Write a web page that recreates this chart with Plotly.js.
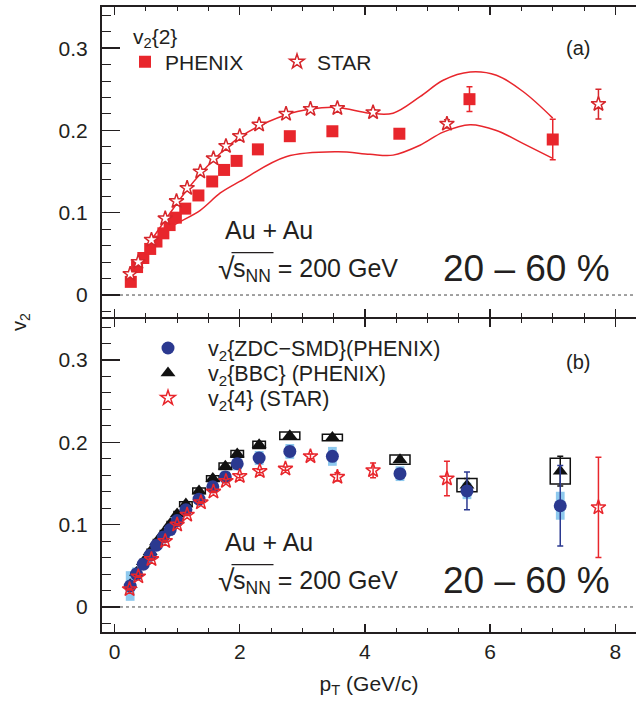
<!DOCTYPE html>
<html>
<head>
<meta charset="utf-8">
<script src="https://cdn.plot.ly/plotly-3.0.1.min.js"></script>
<style>html,body{margin:0;padding:0;background:#fff;}</style>
</head>
<body>
<div id="chart" style="width:642px;height:704px;"></div>
<script>
// ---- (a) v2{2}: PHENIX and STAR ----
const phenixPt  = [0.26,0.36,0.46,0.57,0.67,0.78,0.88,0.98,1.13,1.34,1.56,1.75,1.95,2.29,2.80,3.48,4.55,5.67,7.00];
const phenixV2  = [0.016,0.034,0.045,0.056,0.065,0.075,0.085,0.094,0.105,0.121,0.138,0.152,0.163,0.177,0.193,0.199,0.196,0.238,0.189];
const phenixErr = [0.001,0.001,0.001,0.001,0.001,0.001,0.001,0.001,0.001,0.001,0.001,0.001,0.001,0.002,0.002,0.002,0.004,0.015,0.0245];

const star2Pt  = [0.25,0.38,0.59,0.81,0.99,1.16,1.37,1.58,1.78,2.00,2.31,2.74,3.13,3.56,4.13,5.31,7.73];
const star2V2  = [0.0255,0.040,0.067,0.093,0.114,0.130,0.150,0.166,0.181,0.193,0.207,0.220,0.226,0.227,0.222,0.208,0.232];
const star2Err = [0.001,0.001,0.001,0.001,0.001,0.001,0.001,0.001,0.001,0.001,0.001,0.002,0.002,0.002,0.003,0.005,0.018];

// model band (upper / lower edges)
const bandHiPt = [0.5,0.8,1.16,1.58,2.0,2.74,3.13,3.56,4.08,4.45,4.88,5.25,5.68,6.1,6.53,7.0];
const bandHiV2 = [0.057,0.090,0.128,0.164,0.192,0.219,0.226,0.228,0.221,0.221,0.241,0.261,0.271,0.267,0.247,0.215];
const bandLoPt = [0.5,0.83,1.37,1.69,2.0,2.74,3.56,4.08,4.45,4.88,5.25,5.68,6.1,6.53,7.0];
const bandLoV2 = [0.052,0.079,0.103,0.124,0.138,0.168,0.174,0.171,0.170,0.182,0.198,0.207,0.200,0.184,0.166];

// ---- (b) v2{ZDC-SMD}, v2{BBC} (PHENIX), v2{4} (STAR) ----
const phxPt    = [0.25,0.35,0.46,0.57,0.67,0.78,0.89,1.00,1.14,1.35,1.57,1.77,1.96,2.31,2.80,3.48,4.56,5.63,7.12];
const zdcV2    = [0.0255,0.040,0.052,0.063,0.075,0.085,0.094,0.105,0.118,0.131,0.146,0.158,0.174,0.181,0.189,0.183,0.162,0.141,0.123];
const zdcStat  = [0.002,0.001,0.001,0.001,0.001,0.001,0.001,0.001,0.001,0.001,0.001,0.002,0.002,0.002,0.003,0.004,0.005,0.023,0.049];
const zdcSys   = [0.018,0.008,0.006,0.005,0.005,0.005,0.005,0.005,0.006,0.006,0.007,0.007,0.008,0.0085,0.009,0.0115,0.009,0.010,0.017];
const bbcV2    = [0.027,0.042,0.055,0.067,0.079,0.090,0.101,0.113,0.125,0.141,0.156,0.171,0.186,0.197,0.208,0.206,0.179,0.148,0.165];
const bbcStat  = [0.001,0.001,0.001,0.001,0.001,0.001,0.001,0.001,0.001,0.001,0.001,0.001,0.001,0.001,0.002,0.002,0.003,0.008,0.018];
const bbcSys   = [0.003,0.003,0.003,0.003,0.003,0.003,0.003,0.003,0.003,0.0035,0.0035,0.004,0.004,0.0045,0.0045,0.004,0.0057,0.008,0.0156];

const star4Pt  = [0.24,0.38,0.59,0.81,1.00,1.16,1.38,1.58,1.78,2.00,2.32,2.73,3.13,3.56,4.13,5.31,7.73];
const star4V2  = [0.0215,0.037,0.058,0.080,0.100,0.112,0.127,0.140,0.153,0.159,0.165,0.168,0.183,0.158,0.166,0.156,0.121];
const star4Err = [0.001,0.001,0.001,0.001,0.001,0.001,0.001,0.001,0.002,0.002,0.002,0.002,0.003,0.005,0.009,0.021,0.061];

// ---- styling ----
const FONT = 'Liberation Sans, Arial, Helvetica, sans-serif';
const TXT = '#231f20';
const RED = '#e8262c';
const STARRED = '#d6262b';
const BLUE = '#2b3990';
const LIGHTBLUE = '#8ec9ee';

const W = 642, H = 704;
const M = {l: 102, r: 6, t: 7, b: 72};
const PW = W - M.l - M.r, PH = H - M.t - M.b;
const px = x => (x - M.l) / PW;        // pixel -> paper x
const py = y => (H - M.b - y) / PH;    // pixel -> paper y

const traces = [
  {x: bandHiPt, y: bandHiV2, xaxis: 'x2', yaxis: 'y2', mode: 'lines', showlegend: false,
   line: {color: RED, width: 1.5, shape: 'spline', smoothing: 1}},
  {x: bandLoPt, y: bandLoV2, xaxis: 'x2', yaxis: 'y2', mode: 'lines', showlegend: false,
   line: {color: RED, width: 1.5, shape: 'spline', smoothing: 1}},
  {x: phenixPt, y: phenixV2, xaxis: 'x2', yaxis: 'y2', mode: 'markers', name: 'PHENIX', legend: 'legend',
   marker: {symbol: 'square', size: 12, color: RED},
   error_y: {type: 'data', array: phenixErr, color: RED, thickness: 1.5, width: 3}},
  {x: star2Pt, y: star2V2, xaxis: 'x2', yaxis: 'y2', mode: 'markers', name: 'STAR', legend: 'legend2',
   marker: {symbol: 'star', size: 11, color: '#ffffff', line: {color: STARRED, width: 1.5}},
   error_y: {type: 'data', array: star2Err, color: STARRED, thickness: 1.5, width: 3}},

  {x: phxPt, y: bbcV2, xaxis: 'x', yaxis: 'y', mode: 'markers', name: 'v<sub>2</sub>{BBC} (PHENIX)',
   legend: 'legend4',
   marker: {symbol: 'triangle-up', size: 13, color: '#111111'},
   error_y: {type: 'data', array: bbcStat, color: '#111111', thickness: 1.5, width: 3}},
  {x: phxPt, y: zdcV2, xaxis: 'x', yaxis: 'y', mode: 'markers', name: 'v<sub>2</sub>{ZDC\u2212SMD}(PHENIX)',
   legend: 'legend3',
   marker: {symbol: 'circle', size: 13, color: BLUE},
   error_y: {type: 'data', array: zdcStat, color: BLUE, thickness: 1.5, width: 3}},
  {x: star4Pt, y: star4V2, xaxis: 'x', yaxis: 'y', mode: 'markers', name: 'v<sub>2</sub>{4} (STAR)',
   legend: 'legend5',
   marker: {symbol: 'star-open', size: 11, color: RED, line: {width: 1.5}},
   error_y: {type: 'data', array: star4Err, color: RED, thickness: 1.5, width: 3}}
];

// systematic boxes
const shapes = [];
phxPt.forEach((p, i) => {
  shapes.push({type: 'rect', xref: 'x', yref: 'y', layer: 'below',
    x0: p - 0.07, x1: p + 0.07, y0: zdcV2[i] - zdcSys[i], y1: zdcV2[i] + zdcSys[i],
    fillcolor: LIGHTBLUE, line: {width: 0}});
});
phxPt.forEach((p, i) => {
  const hw = p < 1.1 ? 0.05 : (p < 2.5 ? 0.1 : 0.16);
  shapes.push({type: 'rect', xref: 'x', yref: 'y', layer: 'below',
    x0: p - hw, x1: p + hw, y0: bbcV2[i] - bbcSys[i], y1: bbcV2[i] + bbcSys[i],
    fillcolor: 'rgba(0,0,0,0)', line: {color: '#111111', width: 1.5}});
});
// v2 = 0 reference lines
shapes.push({type: 'line', xref: 'paper', x0: 0, x1: 1, yref: 'y2', y0: 0, y1: 0, layer: 'below',
  line: {color: '#444', width: 1, dash: 'dot'}});
shapes.push({type: 'line', xref: 'paper', x0: 0, x1: 1, yref: 'y', y0: 0, y1: 0, layer: 'below',
  line: {color: '#444', width: 1, dash: 'dot'}});
// radical bars
[252.7, 564.7].forEach(yb => shapes.push({type: 'line', xref: 'paper', yref: 'paper',
  x0: px(231.5), x1: px(273.5), y0: py(yb), y1: py(yb), line: {color: TXT, width: 1.3}}));

function ann(text, x, y, size, xanchor) {
  return {text: text, xref: 'paper', yref: 'paper', x: px(x), y: py(y), xanchor: xanchor || 'left',
    yanchor: 'middle', showarrow: false, font: {family: FONT, size: size, color: TXT}};
}
const annotations = [];
annotations.push(ann('v<sub>2</sub>{2}', 131, 38, 21));
[0, 312].forEach((dy, k) => {
  annotations.push(ann(k === 0 ? '(a)' : '(b)', 578, 48 + dy + (k ? 2 : 0), 20, 'center'));
  annotations.push(ann('Au + Au', 223, 230 + dy, 25));
  annotations.push(ann('\u221A', 216, 268 + dy, 30));
  annotations.push(ann('s<sub>NN</sub> = 200 GeV', 231, 270 + dy, 25));
  annotations.push(ann('20 \u2013 60 %', 441, 268.5 + dy, 37));
});
const ytitle = ann('v<sub>2</sub>', 20, 322, 20, 'center');
ytitle.textangle = -90;
annotations.push(ytitle);

const xCommon = {range: [-0.2, 8.33], tick0: 0, dtick: 2, ticks: 'inside', ticklen: 8, tickwidth: 1.5,
  tickcolor: TXT, showline: true, linewidth: 2, linecolor: TXT, mirror: 'ticks',
  showgrid: false, zeroline: false, tickfont: {family: FONT, size: 21, color: TXT},
  minor: {dtick: 0.5, tick0: 0, ticks: 'inside', ticklen: 4, tickwidth: 1, tickcolor: TXT}};
const yLeft = {tick0: 0, dtick: 0.1, ticks: 'inside', ticklen: 18, tickwidth: 1.5, tickcolor: TXT,
  showline: true, linewidth: 2, linecolor: TXT, mirror: false, showgrid: false, zeroline: false,
  tickfont: {family: FONT, size: 21, color: TXT}, ticklabelstandoff: 8,
  minor: {dtick: 0.02, tick0: 0, ticks: 'inside', ticklen: 9, tickwidth: 1, tickcolor: TXT}};
const yRight = {tick0: 0, dtick: 0.1, ticks: 'inside', ticklen: 7, tickwidth: 1.5, tickcolor: TXT,
  showline: true, linewidth: 2, linecolor: TXT, showgrid: false, zeroline: false, showticklabels: false,
  side: 'right', minor: {dtick: 0.02, tick0: 0, ticks: 'inside', ticklen: 4, tickwidth: 1, tickcolor: TXT}};

// the two panels share the frame line between them
const domB = [0, py(319)], domT = [py(317), 1];
const rangeB = [-0.0304, 0.3499], rangeT = [-0.0267, 0.35];

function legendAt(xMarker, yCenter, itemwidth, size) {
  return {x: px(xMarker - (itemwidth / 2 + 7)), y: py(yCenter), xanchor: 'left', yanchor: 'middle',
    orientation: 'v', itemwidth: itemwidth, bgcolor: 'rgba(0,0,0,0)', borderwidth: 0,
    font: {family: FONT, size: size, color: TXT}};
}

const layout = {
  width: W, height: H, margin: M, paper_bgcolor: '#fff', plot_bgcolor: '#fff',
  font: {family: FONT, color: TXT},
  xaxis: Object.assign({}, xCommon, {domain: [0, 1], anchor: 'y',
    title: {text: 'p<sub>T</sub> (GeV/c)', font: {family: FONT, size: 21, color: TXT}, standoff: 14}}),
  xaxis2: Object.assign({}, xCommon, {domain: [0, 1], anchor: 'y2', matches: 'x', showticklabels: false}),
  yaxis: Object.assign({}, yLeft, {domain: domB, anchor: 'x', range: rangeB}),
  yaxis2: Object.assign({}, yLeft, {domain: domT, anchor: 'x2', range: rangeT}),
  yaxis3: Object.assign({}, yRight, {overlaying: 'y', anchor: 'x', range: rangeB}),
  yaxis4: Object.assign({}, yRight, {overlaying: 'y2', anchor: 'x2', range: rangeT}),
  legend: legendAt(147, 62, 30, 21),
  legend2: legendAt(299, 62, 30, 21),
  legend3: legendAt(170, 348, 70, 21.5),
  legend4: legendAt(170, 373, 70, 21.5),
  legend5: legendAt(170, 398, 70, 21.5),
  shapes: shapes,
  annotations: annotations,
  showlegend: true
};

Plotly.newPlot('chart', traces, layout, {staticPlot: true, displayModeBar: false});
</script>
</body>
</html>
